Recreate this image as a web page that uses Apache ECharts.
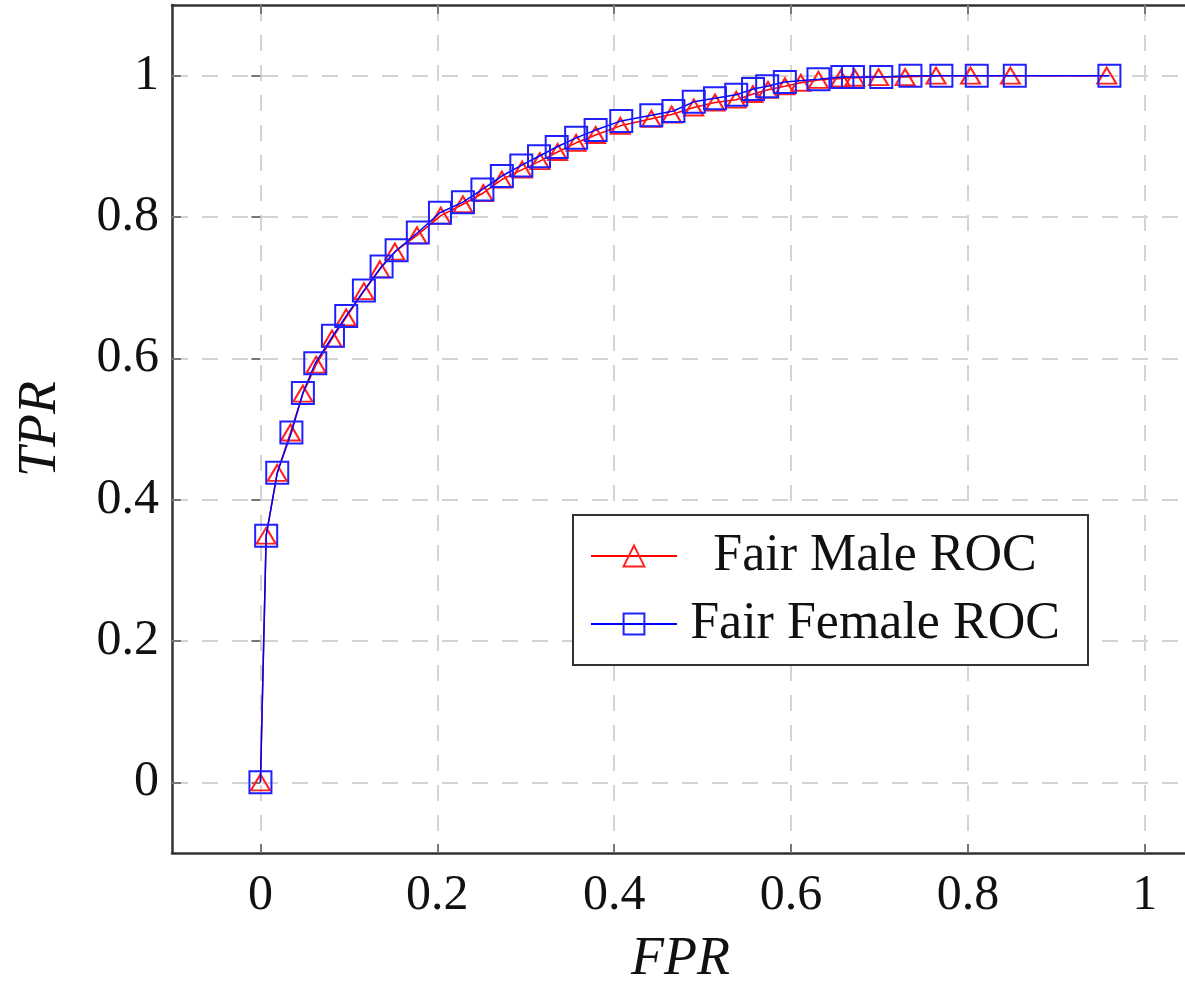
<!DOCTYPE html>
<html>
<head>
<meta charset="utf-8">
<script src="https://cdn.jsdelivr.net/npm/echarts@6/dist/echarts.min.js"></script>
<style>
  html, body { margin: 0; padding: 0; background: #fff; }
  #chart { width: 1185px; height: 982px; }
</style>
</head>
<body>
<div id="chart"></div>
<script>
// ROC points: [FPR, TPR]
const maleRoc = [
  [0, 0], [0.0065, 0.349], [0.019, 0.438], [0.034, 0.495], [0.048, 0.55],
  [0.063, 0.591], [0.081, 0.628], [0.097, 0.658], [0.117, 0.695], [0.135, 0.726],
  [0.152, 0.751], [0.177, 0.774], [0.204, 0.802], [0.229, 0.818], [0.252, 0.834],
  [0.273, 0.853], [0.296, 0.867], [0.316, 0.879], [0.336, 0.892], [0.357, 0.905],
  [0.379, 0.916], [0.407, 0.929], [0.442, 0.939], [0.465, 0.945], [0.49, 0.955],
  [0.514, 0.962], [0.538, 0.966], [0.557, 0.974], [0.574, 0.98], [0.593, 0.985],
  [0.611, 0.99], [0.631, 0.994], [0.656, 0.996], [0.672, 0.997], [0.699, 0.998],
  [0.729, 0.998], [0.764, 1.0], [0.803, 1.0], [0.848, 1.0], [0.957, 1.0]
];
const femaleRoc = [
  [0, 0], [0.0065, 0.349], [0.019, 0.438], [0.035, 0.495], [0.048, 0.551],
  [0.062, 0.593], [0.082, 0.632], [0.097, 0.66], [0.117, 0.696], [0.137, 0.73],
  [0.154, 0.753], [0.178, 0.778], [0.203, 0.806], [0.229, 0.821], [0.251, 0.839],
  [0.273, 0.858], [0.295, 0.873], [0.315, 0.886], [0.335, 0.899], [0.357, 0.912],
  [0.379, 0.923], [0.408, 0.936], [0.442, 0.944], [0.467, 0.95], [0.49, 0.963],
  [0.514, 0.968], [0.538, 0.973], [0.557, 0.981], [0.573, 0.985], [0.593, 0.991],
  [0.631, 0.995], [0.658, 0.998], [0.67, 0.998], [0.702, 0.998], [0.735, 1.0],
  [0.77, 1.0], [0.81, 1.0], [0.853, 1.0], [0.96, 1.0]
];
const tickValues = [0, 0.2, 0.4, 0.6, 0.8, 1];
const seriesNames = ["Fair Male ROC", "Fair Female ROC"];

const font = "'Liberation Serif', 'DejaVu Serif', serif";
const gridLine = { show: true, lineStyle: { color: "#d4d4d4", width: 2, type: [16, 14] } };
const axisLine = { show: true, onZero: false, lineStyle: { color: "#333", width: 2.5 } };
const tickStyle = { show: true, inside: true, length: 9, customValues: tickValues, lineStyle: { color: "#777", width: 2 } };

const chart = echarts.init(document.getElementById("chart"));
chart.setOption({
  animation: false,
  backgroundColor: "#fff",
  grid: { left: 172, right: -4, top: 5, bottom: 129, containLabel: false, outerBoundsMode: "none" },
  legend: {
    data: seriesNames,
    orient: "vertical",
    left: 573,
    top: 515,
    padding: [15, 20, 15, 17],
    itemGap: 16,
    itemWidth: 86,
    itemHeight: 26,
    backgroundColor: "#fff",
    borderColor: "#333",
    borderWidth: 2,
    borderRadius: 0,
    formatter: (name) => "{t|" + name + "}",
    textStyle: {
      rich: { t: { fontFamily: font, fontSize: 52, color: "#111", width: 386, align: "center", lineHeight: 56 } },
    },
  },
  xAxis: [
    {
      type: "value",
      min: -0.1,
      max: 1.05,
      position: "bottom",
      name: "FPR",
      nameLocation: "middle",
      nameGap: 80,
      nameTextStyle: { fontFamily: font, fontStyle: "italic", fontSize: 54, color: "#111" },
      axisLine: axisLine,
      axisTick: tickStyle,
      splitLine: gridLine,
      axisLabel: {
        customValues: tickValues,
        margin: 18,
        fontFamily: font,
        fontSize: 50,
        color: "#111",
        formatter: (v) => String(v),
      },
    },
    {
      type: "value",
      min: -0.1,
      max: 1.05,
      position: "top",
      axisLine: axisLine,
      axisTick: tickStyle,
      splitLine: { show: false },
      axisLabel: { show: false },
    },
  ],
  yAxis: [
    {
      type: "value",
      min: -0.1,
      max: 1.1,
      position: "left",
      name: "TPR",
      nameLocation: "middle",
      nameGap: 104,
      nameTextStyle: { fontFamily: font, fontStyle: "italic", fontSize: 54, color: "#111" },
      axisLine: axisLine,
      axisTick: tickStyle,
      splitLine: gridLine,
      axisLabel: {
        customValues: tickValues,
        margin: 13,
        fontFamily: font,
        fontSize: 50,
        color: "#111",
        formatter: (v) => String(v),
      },
    },
    {
      // right frame sits just past the picture edge: only its ticks show
      type: "value",
      min: -0.1,
      max: 1.1,
      position: "right",
      axisLine: { show: false },
      axisTick: tickStyle,
      splitLine: { show: false },
      axisLabel: { show: false },
    },
  ],
  series: [
    {
      name: seriesNames[0],
      type: "line",
      data: maleRoc,
      symbol: "triangle",
      symbolSize: [19, 16],
      lineStyle: { color: "#ff0000", width: 1.5 },
      itemStyle: { color: "rgba(255,255,255,0)", borderColor: "#ff2020", borderWidth: 2 },
      emphasis: { disabled: true },
      z: 3,
    },
    {
      name: seriesNames[1],
      type: "line",
      data: femaleRoc,
      symbol: "rect",
      symbolSize: 22,
      lineStyle: { color: "#0000ff", width: 1.5 },
      itemStyle: { color: "rgba(255,255,255,0)", borderColor: "#2020ff", borderWidth: 2 },
      emphasis: { disabled: true },
      z: 4,
    },
  ],
});
</script>
</body>
</html>
